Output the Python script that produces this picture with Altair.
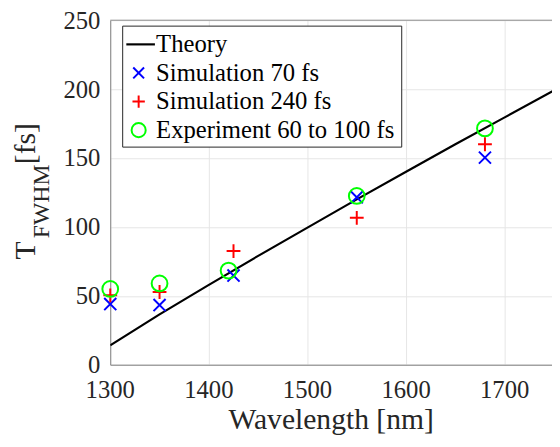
import altair as alt
import pandas as pd

# ---- data ----
theory_wl = [1300, 1350, 1400, 1450, 1500, 1550, 1600, 1650, 1700, 1750]
theory_t = [14, 36.5, 58, 79, 99.5, 120, 140, 160, 179.5, 199]

sim70_wl = [1300, 1350, 1425, 1550, 1680]
sim70_t = [44, 43.3, 64.7, 121.5, 150.3]

sim240_wl = [1300, 1350, 1425, 1550, 1680]
sim240_t = [50.4, 52.8, 82.5, 106.6, 160]

exp_wl = [1300, 1350, 1420, 1550, 1680]
exp_t = [55, 59, 68.3, 122.5, 171.5]

series_names = ["Theory", "Simulation 70 fs", "Simulation 240 fs", "Experiment 60 to 100 fs"]
series_colors = ["#000000", "#0000ff", "#ff0000", "#00ff00"]
X_PATH = "M-1,-1L1,1M1,-1L-1,1"
PLUS_PATH = "M-1,0L1,0M0,-1L0,1"
series_shapes = [None, X_PATH, PLUS_PATH, "circle"]
series_sizes = [None, 150, 196, 256]

x_ticks = [1300, 1400, 1500, 1600, 1700]
y_ticks = [0, 50, 100, 150, 200, 250]
top_edge = [250]
x_title = "Wavelength [nm]"
y_title_parts = ["T", "FWHM", "[fs]"]

FONT = "Liberation Serif"
TXT = "#262626"
W, H = 448, 349.4

theory_df = pd.DataFrame({"wl": theory_wl, "t": theory_t})
pts_df = pd.concat([
    pd.DataFrame({"wl": sim70_wl, "t": sim70_t, "series": series_names[1]}),
    pd.DataFrame({"wl": sim240_wl, "t": sim240_t, "series": series_names[2]}),
    pd.DataFrame({"wl": exp_wl, "t": exp_t, "series": series_names[3]}),
], ignore_index=True)

xscale = alt.Scale(domain=[1300, 1748], nice=False, zero=False)
yscale = alt.Scale(domain=[0, 250], nice=False)

xaxis = alt.Axis(values=x_ticks, title=None, grid=True, labels=False, ticks=False)
yaxis = alt.Axis(values=y_ticks, title=None, grid=True, labels=False, ticks=False)

top = alt.Chart(pd.DataFrame({"y": top_edge})).mark_rule(color="#8a8a8a", strokeWidth=1).encode(
    y=alt.Y("y:Q", scale=yscale, axis=yaxis)
)

line = alt.Chart(theory_df).mark_line(color="black", strokeWidth=2.2, clip=True).encode(
    x=alt.X("wl:Q", scale=xscale, axis=xaxis),
    y=alt.Y("t:Q", scale=yscale),
)

points = alt.Chart(pts_df).mark_point(filled=False, strokeWidth=2, opacity=1).encode(
    x=alt.X("wl:Q", scale=xscale),
    y=alt.Y("t:Q", scale=yscale),
    color=alt.Color("series:N", scale=alt.Scale(domain=series_names[1:], range=series_colors[1:]), legend=None),
    shape=alt.Shape("series:N", scale=alt.Scale(domain=series_names[1:], range=series_shapes[1:]), legend=None),
    size=alt.Size("series:N", scale=alt.Scale(type="ordinal", domain=series_names[1:], range=series_sizes[1:]), legend=None),
)

# tick labels (text through the same scales)
xlab = alt.Chart(pd.DataFrame({"v": x_ticks})).mark_text(
    font=FONT, fontSize=25, color=TXT, align="center", baseline="alphabetic").encode(
    x=alt.X("v:Q", scale=xscale), y=alt.value(H + 33.8), text=alt.Text("v:Q", format="d"))
ylab = alt.Chart(pd.DataFrame({"v": y_ticks})).mark_text(
    font=FONT, fontSize=25, color=TXT, align="right", baseline="alphabetic", dy=8.5).encode(
    y=alt.Y("v:Q", scale=yscale), x=alt.value(-10), text=alt.Text("v:Q", format="d"))

xtitle = alt.Chart(pd.DataFrame({"s": [x_title]})).mark_text(
    font=FONT, fontSize=30, color=TXT, align="center", baseline="alphabetic").encode(
    x=alt.value(W / 2), y=alt.value(H + 65.3), text="s:N")

dummy = pd.DataFrame({"a": [0]})
t_main = alt.Chart(dummy).mark_text(angle=270, align="left", baseline="alphabetic",
                                    font=FONT, fontSize=30, color=TXT).encode(
    x=alt.value(-76.7), y=alt.value(242.7), text=alt.value(y_title_parts[0]))
t_sub = alt.Chart(dummy).mark_text(angle=270, align="left", baseline="alphabetic",
                                   font=FONT, fontSize=24, color=TXT).encode(
    x=alt.value(-61.7), y=alt.value(221), text=alt.value(y_title_parts[1]))
t_unit = alt.Chart(dummy).mark_text(angle=270, align="left", baseline="alphabetic",
                                    font=FONT, fontSize=30, color=TXT).encode(
    x=alt.value(-76.7), y=alt.value(146), text=alt.value(y_title_parts[2]))

# legend box
LX0, LX1, LY0, LY1 = 12.6, 295.6, 6, 128.7
row_y = [24.5, 53.5, 82.5, 111.5]
legend_layers = [
    alt.Chart(dummy).mark_rect(fill="white", stroke=TXT, strokeWidth=1).encode(
        x=alt.value(LX0), x2=alt.value(LX1), y=alt.value(LY0), y2=alt.value(LY1)),
    alt.Chart(dummy).mark_rule(color="black", strokeWidth=2.2).encode(
        x=alt.value(16.3), x2=alt.value(45.3), y=alt.value(row_y[0])),
]
for i in range(1, 4):
    legend_layers.append(
        alt.Chart(dummy).mark_point(shape=series_shapes[i], filled=False, strokeWidth=2,
                                    opacity=1, color=series_colors[i], size=series_sizes[i] * 0.8).encode(
            x=alt.value(28.8), y=alt.value(row_y[i])))
for i in range(4):
    legend_layers.append(
        alt.Chart(dummy).mark_text(font=FONT, fontSize=25, color="black", align="left",
                                   baseline="middle").encode(
            x=alt.value(46.5), y=alt.value(row_y[i]), text=alt.value(series_names[i])))

chart = alt.layer(top, line, points, xlab, ylab, xtitle, t_main, t_sub, t_unit,
                  *legend_layers).properties(
    width=W, height=H,
    autosize=alt.AutoSizeParams(type="none"),
    padding={"left": 103.7, "top": 9.3, "right": 0, "bottom": 79},
).configure_view(stroke=None).configure_axis(
    domainColor="#808080", domainWidth=1, gridColor="#e6e6e6", gridWidth=1,
)

chart.save("out.html", embed_options={"renderer": "svg", "actions": False})
